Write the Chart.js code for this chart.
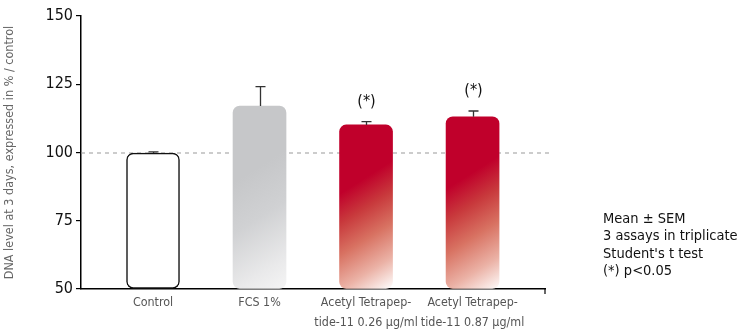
<!DOCTYPE html>
<html>
<head>
<meta charset="utf-8">
<script src="https://cdn.jsdelivr.net/npm/chart.js@4"></script>
<style>
  html, body { margin: 0; padding: 0; background: #fff; }
</style>
</head>
<body>
<canvas id="dnaChart" width="745" height="336"></canvas>
<script>
const categories = ['Control', 'FCS 1%', ['Acetyl Tetrapep-', 'tide-11 0.26 µg/ml'], ['Acetyl Tetrapep-', 'tide-11 0.87 µg/ml']];
const dnaLevel = [99.8, 117, 110.1, 113.1];
const sem = [0.4, 7.1, 1.2, 2.1];
const marks = ['', '', '(*)', '(*)'];
const yTicks = [50, 75, 100, 125, 150];
const referenceLevel = 100;
const notes = ['Mean ± SEM', '3 assays in triplicate', "Student's t test", '(*) p<0.05'];

const FONT = "'Liberation Sans Narrow', 'DejaVu Sans Condensed', 'Roboto Condensed', sans-serif";

const greyStops = [[0, '#c6c7c9'], [0.3, '#c6c7c9'], [0.5, '#d0d1d3'], [0.72, '#e9e9ea'], [0.86, '#f6f6f6'], [1, '#ffffff']];
const redStops = [[0, '#c0002b'], [0.3, '#c0002b'], [0.43, '#c8393c'], [0.57, '#d87262'], [0.72, '#ebb2a6'], [0.86, '#ffffff'], [1, '#ffffff']];

// gradient along a slanted line, going from top-left to lower right of the bar
function barFill(context, stops) {
    const chart = context.chart;
    if (!chart.chartArea) return stops[0][1];
    const i = context.dataIndex;
    const xs = chart.scales.x, ys = chart.scales.y;
    const cx = xs.getPixelForValue(i);
    const top = ys.getPixelForValue(dnaLevel[i]);
    const bottom = ys.getPixelForValue(50);
    const h = bottom - top;
    const left = cx - 26;
    const g = chart.ctx.createLinearGradient(left, top, left + 0.63 * h, bottom);
    stops.forEach(s => g.addColorStop(s[0], s[1]));
    return g;
}

const extras = {
    id: 'extras',
    beforeDatasetsDraw(chart) {
        const ctx = chart.ctx, a = chart.chartArea;
        const y = chart.scales.y.getPixelForValue(referenceLevel);
        ctx.save();
        ctx.strokeStyle = '#9a9a9a';
        ctx.lineWidth = 1;
        ctx.setLineDash([4, 4]);
        ctx.beginPath();
        ctx.moveTo(a.left, y + 0.5);
        ctx.lineTo(a.right + 8, y + 0.5);
        ctx.stroke();
        ctx.restore();
    },
    afterDatasetsDraw(chart) {
        const ctx = chart.ctx, a = chart.chartArea;
        const xs = chart.scales.x, ys = chart.scales.y;
        ctx.save();
        // error bars
        ctx.strokeStyle = '#333';
        ctx.lineWidth = 1.3;
        dnaLevel.forEach((v, i) => {
            const x = Math.round(xs.getPixelForValue(i)) + 0.5;
            const y0 = ys.getPixelForValue(v);
            const y1 = ys.getPixelForValue(v + sem[i]);
            ctx.beginPath();
            ctx.moveTo(x, y0);
            ctx.lineTo(x, y1);
            ctx.moveTo(x - 5, y1);
            ctx.lineTo(x + 5, y1);
            ctx.stroke();
            if (marks[i]) {
                ctx.fillStyle = '#111';
                ctx.font = '16px ' + FONT;
                ctx.textAlign = 'center';
                ctx.textBaseline = 'middle';
                ctx.fillText(marks[i], x, y1 - 20);
            }
        });
        // small end tick of x axis
        ctx.strokeStyle = '#000';
        ctx.lineWidth = 1.2;
        ctx.beginPath();
        ctx.moveTo(a.right, a.bottom);
        ctx.lineTo(a.right, a.bottom + 5);
        ctx.stroke();
        // notes on the right
        ctx.fillStyle = '#111';
        ctx.font = '14.5px ' + FONT;
        ctx.textAlign = 'left';
        ctx.textBaseline = 'middle';
        notes.forEach((t, k) => ctx.fillText(t, 603, 219 + k * 17.5));
        ctx.restore();
    }
};

new Chart(document.getElementById('dnaChart'), {
    type: 'bar',
    data: {
        datasets: [{
            data: dnaLevel.map((v, i) => ({ x: i, y: v })),
            base: 50,
            barThickness: 53,
            borderRadius: 7,
            borderSkipped: false,
            borderWidth: [1.5, 0, 0, 0],
            borderColor: '#111',
            backgroundColor: function (context) {
                const i = context.dataIndex;
                if (i === 0) return '#ffffff';
                if (i === 1) return barFill(context, greyStops);
                return barFill(context, redStops);
            }
        }]
    },
    options: {
        responsive: false,
        animation: false,
        layout: { padding: { top: 16, right: 200, left: 0, bottom: 0 } },
        plugins: {
            legend: { display: false },
            tooltip: { enabled: false }
        },
        scales: {
            x: {
                type: 'linear',
                offset: false,
                min: -0.676,
                max: 3.68,
                afterBuildTicks: axis => { axis.ticks = categories.map((_, i) => ({ value: i })); },
                afterFit: axis => { axis.height = 47; },
                grid: { display: false, drawTicks: false },
                border: { display: true, color: '#000', width: 1.5 },
                ticks: {
                    autoSkip: false,
                    maxRotation: 0,
                    padding: 4,
                    color: '#555',
                    font: { family: FONT, size: 12.4, lineHeight: 1.6 },
                    callback: value => categories[value]
                }
            },
            y: {
                min: 50,
                max: 150,
                afterBuildTicks: axis => { axis.ticks = yTicks.map(v => ({ value: v })); },
                afterFit: axis => { axis.width = 81; },
                grid: { drawOnChartArea: false, drawTicks: true, tickLength: 5, color: '#000', lineWidth: 1.2 },
                border: { display: true, color: '#000', width: 1.5 },
                ticks: {
                    padding: 3,
                    color: '#111',
                    font: { family: FONT, size: 16 }
                },
                title: {
                    display: true,
                    text: 'DNA level at 3 days, expressed in % / control',
                    color: '#666',
                    font: { family: FONT, size: 12.5 },
                    padding: { top: 2, bottom: 0 }
                }
            }
        }
    },
    plugins: [extras]
});
</script>
</body>
</html>
